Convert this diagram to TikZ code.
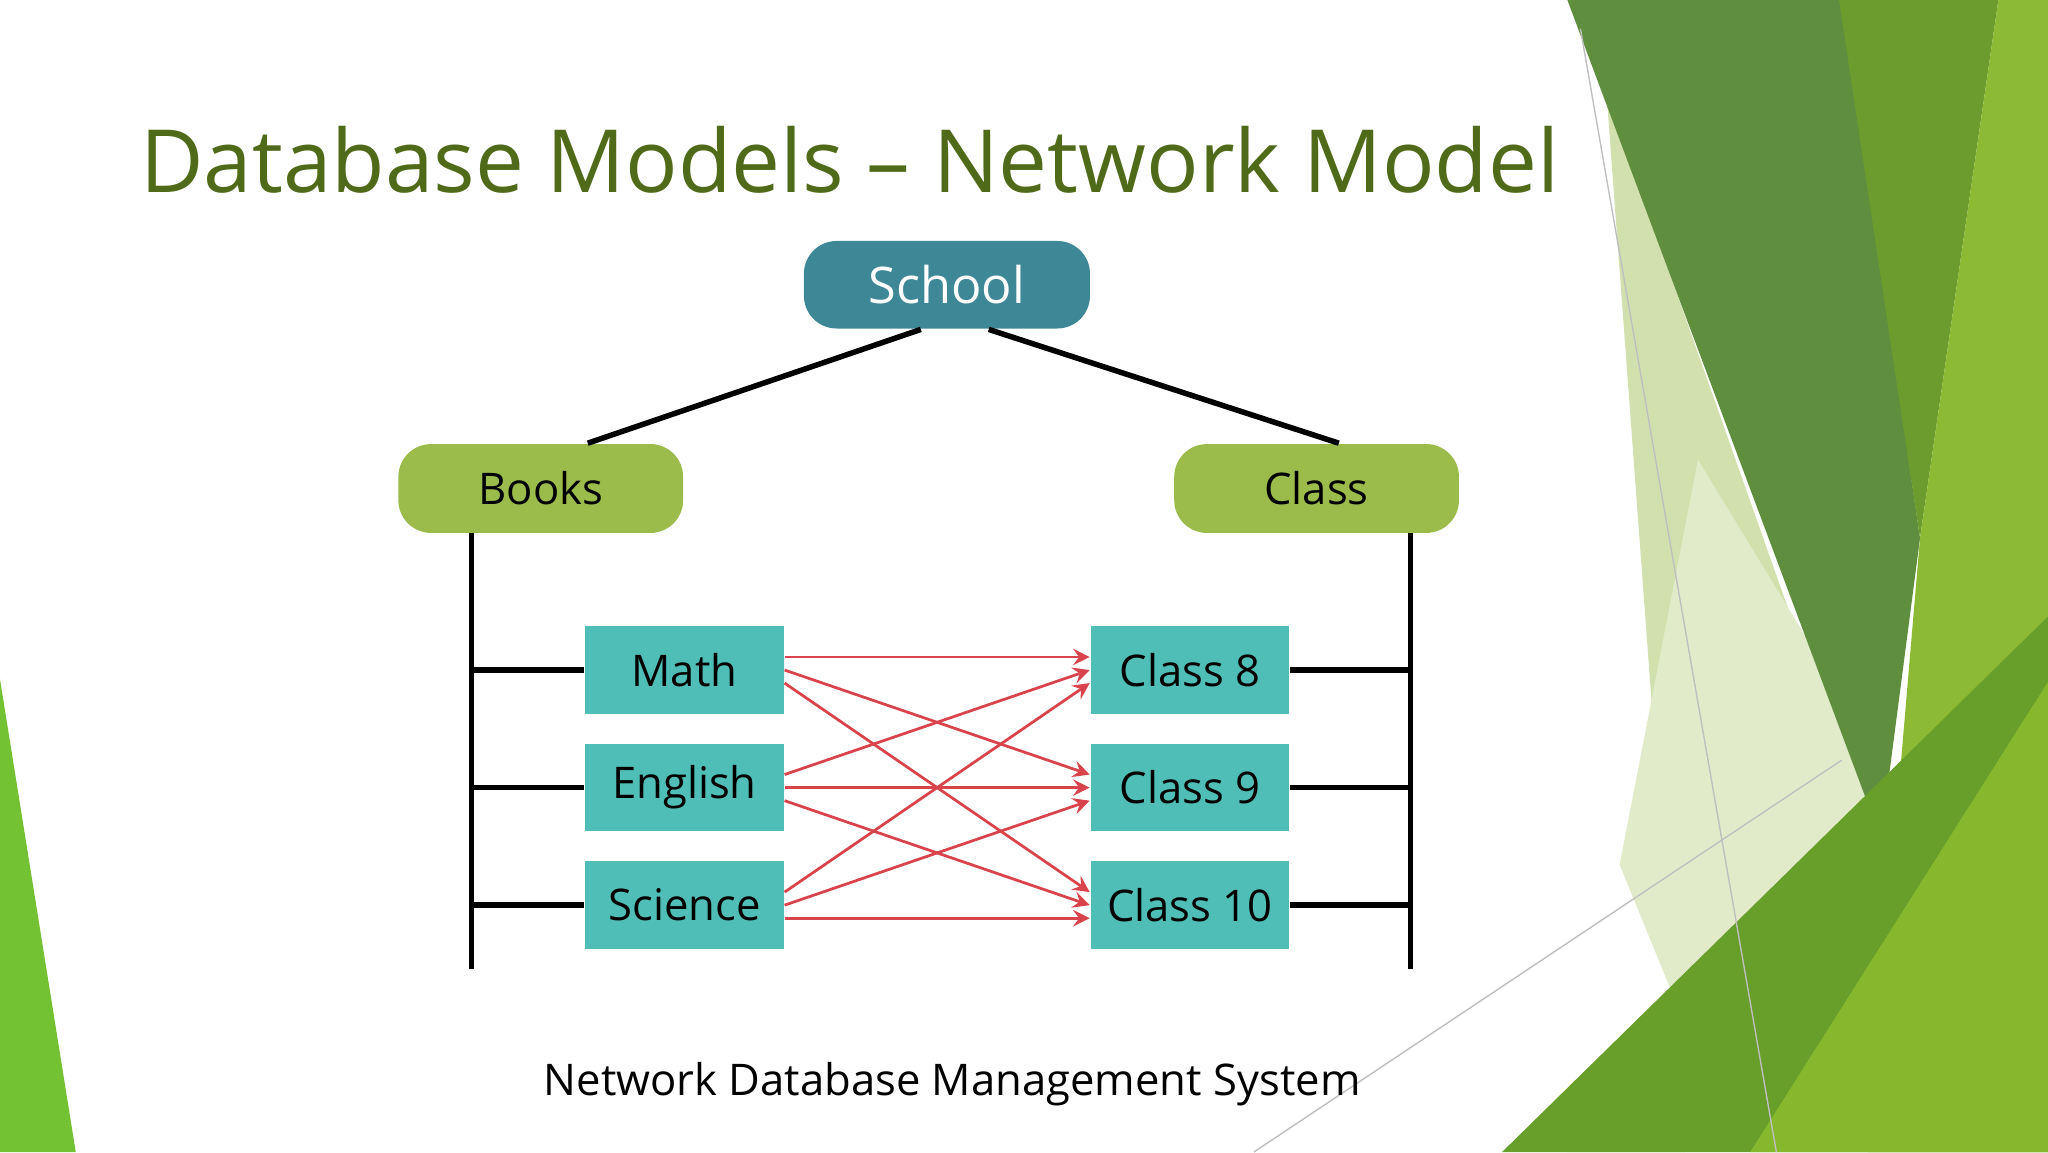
\documentclass[tikz,border=0pt]{standalone}
\usepackage{fontspec}
\setmainfont{Open Sans}
\usepackage{xcolor}
\definecolor{titlegreen}{HTML}{4F6B1A}
\definecolor{schoolteal}{HTML}{3E8797}
\definecolor{bookgreen}{HTML}{9BBB4A}
\definecolor{itemteal}{HTML}{4FBEB6}
\definecolor{linkred}{HTML}{D9434B}
\begin{document}
\begin{tikzpicture}[
    every node/.style={align=center},
    top/.style={rectangle, rounded corners=0.25cm, fill=schoolteal, text=white, minimum width=2.19cm, minimum height=0.67cm, font=\fontsize{11}{13}\selectfont},
    group/.style={rectangle, rounded corners=0.25cm, fill=bookgreen, minimum width=2.18cm, minimum height=0.68cm, font=\fontsize{9.5}{11}\selectfont},
    item/.style={rectangle, fill=itemteal, minimum width=1.52cm, minimum height=0.67cm, font=\fontsize{9.5}{11}\selectfont},
    tree/.style={draw=black, line width=1.2pt},
    link/.style={->, >=stealth, draw=linkred, line width=0.6pt}
]
\useasboundingbox (0,0) rectangle (15.68,8.82);

% background shapes
\fill[green!40!lime!70!black!80] (0,3.62) -- (0,0) -- (0.58,0) -- cycle;
\fill[green!30!black!10!white, fill=bookgreen!45] (12.3,8.1) -- (14.1,3.0) -- (12.0,0) -- (12.9,0) -- cycle;
\fill[fill=bookgreen!30] (13.0,5.3) -- (14.4,3.0) -- (13.3,0) -- (12.4,2.2) -- cycle;
\fill[fill={rgb,255:red,95;green,142;blue,62}] (12.0,8.82) -- (14.1,8.82) -- (14.7,4.7) -- (14.4,2.4) -- cycle;
\fill[fill={rgb,255:red,108;green,156;blue,46}] (14.08,8.82) -- (15.3,8.82) -- (14.7,4.7) -- cycle;
\fill[fill={rgb,255:red,140;green,186;blue,52}] (15.3,8.82) -- (15.68,8.82) -- (15.68,0) -- (14.3,0) -- (14.7,4.7) -- cycle;
\fill[fill={rgb,255:red,104;green,158;blue,42}] (11.5,0) -- (15.68,4.1) -- (15.68,0) -- cycle;
\fill[fill={rgb,255:red,134;green,184;blue,46}] (13.4,0) -- (15.68,3.6) -- (15.68,0) -- cycle;
\draw[gray!50, line width=0.3pt] (12.1,8.6) -- (13.6,0);
\draw[gray!50, line width=0.3pt] (9.6,0) -- (14.1,3.0);

% title and caption
\node[anchor=west, text=titlegreen, font=\fontsize{19}{22}\selectfont] (title) at (0.95,7.60) {Database Models -- Network Model};
\node[font=\fontsize{9.5}{11}\selectfont] (caption) at (7.29,0.52) {Network Database Management System};

% tree
\node[top] (school) at (7.25,6.64) {School};
\node[group] (books) at (4.14,5.08) {Books};
\node[group] (class) at (10.08,5.08) {Class};
\draw[tree] ([xshift=-0.2cm]school.south) -- ([xshift=0.36cm]books.north);
\draw[tree] ([xshift=0.32cm]school.south) -- ([xshift=0.17cm]class.north);

\node[item] (math) at (5.24,3.69) {Math};
\node[item] (english) at (5.24,2.79) {English};
\node[item] (science) at (5.24,1.89) {Science};
\node[item] (c8) at (9.11,3.69) {Class 8};
\node[item] (c9) at (9.11,2.79) {Class 9};
\node[item] (c10) at (9.11,1.89) {Class 10};

\coordinate (lt) at (3.61,4.74);
\coordinate (lb) at (3.61,1.40);
\coordinate (rt) at (10.80,4.74);
\coordinate (rb) at (10.80,1.40);
\draw[tree] (lt) -- (lb);
\draw[tree] (rt) -- (rb);
\foreach \n in {math,english,science}
    \draw[tree] (\n.west) -- (lt |- \n.west);
\foreach \n in {c8,c9,c10}
    \draw[tree] (\n.east) -- (rt |- \n.east);

% links
\foreach \s/\so in {math/0.1,english/0,science/-0.1}
    \foreach \t/\to in {c8/0.1,c9/0,c10/-0.1}
        \draw[link] ([yshift=\to cm]\s.east) -- ([yshift=\so cm]\t.west);

\end{tikzpicture}
\end{document}
